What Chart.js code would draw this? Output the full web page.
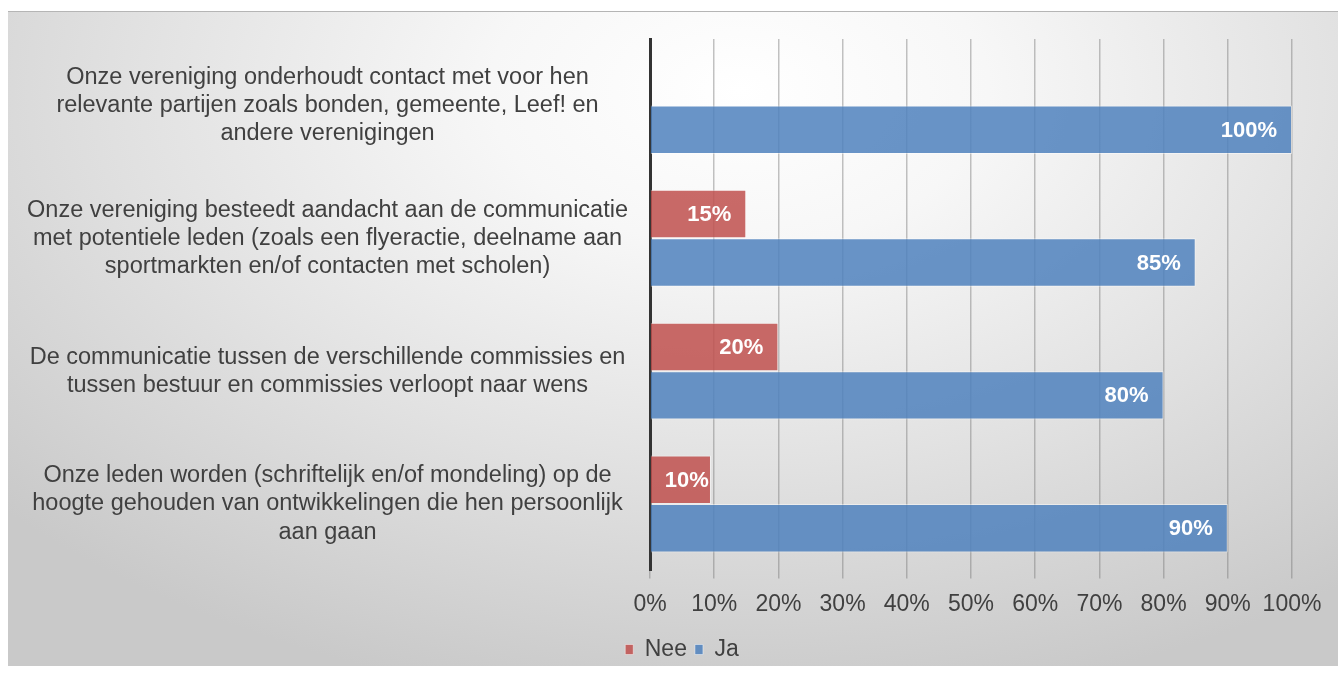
<!DOCTYPE html>
<html>
<head>
<meta charset="utf-8">
<script src="https://cdn.jsdelivr.net/npm/chart.js@4/dist/chart.umd.min.js"></script>
<style>
    html, body { margin: 0; padding: 0; background: #ffffff; }
    #frame {
        position: absolute;
        left: 8px; top: 11px;
        width: 1330px; height: 654px;
        background: radial-gradient(ellipse 75% 95% at 55% 12%, #ffffff 0%, #f7f7f7 25%, #e2e2e2 60%, #c9c9c9 100%);
        border-top: 1px solid #b5b5b5;
    }
</style>
</head>
<body>
<div id="frame"><canvas id="chart"></canvas></div>
<script>
    // Data
    const categories = [
        ['Onze vereniging onderhoudt contact met voor hen', 'relevante partijen zoals bonden, gemeente, Leef! en', 'andere verenigingen'],
        ['Onze vereniging besteedt aandacht aan de communicatie', 'met potentiele leden (zoals een flyeractie, deelname aan', 'sportmarkten en/of contacten met scholen)'],
        ['De communicatie tussen de verschillende commissies en', 'tussen bestuur en commissies verloopt naar wens'],
        ['Onze leden worden (schriftelijk en/of mondeling) op de', 'hoogte gehouden van ontwikkelingen die hen persoonlijk', 'aan gaan']
    ];
    const neeValues = [0, 15, 20, 9.5];
    const jaValues = [100, 85, 80, 90];
    const xTicks = [0, 10, 20, 30, 40, 50, 60, 70, 80, 90, 100];

    const textColor = '#404040';
    const fontFamily = '"Liberation Sans", Arial, sans-serif';

    // Value labels drawn inside the end of each bar
    const barLabels = {
        id: 'barLabels',
        afterDatasetsDraw(chart) {
            const ctx = chart.ctx;
            ctx.save();
            ctx.font = 'bold 22px ' + fontFamily;
            ctx.fillStyle = '#ffffff';
            ctx.textAlign = 'right';
            ctx.textBaseline = 'middle';
            chart.data.datasets.forEach((ds, i) => {
                chart.getDatasetMeta(i).data.forEach((bar, j) => {
                    const v = ds.data[j];
                    if (!v) return;
                    const text = Math.round(v) + '%';
                    const w = ctx.measureText(text).width;
                    // short bars: keep the label from running past the axis
                    const x = Math.min(bar.x, Math.max(bar.x - 15, bar.base + 14 + w));
                    ctx.fillText(text, x, bar.y + 1);
                });
            });
            ctx.restore();
        }
    };

    // Nudge the legend a little right of centre, like the original
    const legendShift = {
        id: 'legendShift',
        beforeDraw(chart) {
            chart.legend.left += 32;
            chart.legend.right += 32;
        }
    };

    new Chart(document.getElementById('chart'), {
        type: 'bar',
        data: {
            labels: categories,
            datasets: [{
                label: 'Nee',
                data: neeValues,
                backgroundColor: 'rgba(192, 80, 77, 0.85)',
                borderColor: 'rgba(255, 255, 255, 0.45)',
                borderWidth: 1,
                categoryPercentage: 0.73,
                barPercentage: 1
            }, {
                label: 'Ja',
                data: jaValues,
                backgroundColor: 'rgba(79, 129, 189, 0.85)',
                borderColor: 'rgba(255, 255, 255, 0.45)',
                borderWidth: 1,
                categoryPercentage: 0.73,
                barPercentage: 1
            }]
        },
        options: {
            indexAxis: 'y',
            responsive: true,
            maintainAspectRatio: false,
            animation: false,
            layout: { padding: { top: 27, right: 46, left: 0, bottom: -5 } },
            plugins: {
                legend: {
                    position: 'bottom',
                    labels: {
                        color: textColor,
                        boxWidth: 8,
                        boxHeight: 10,
                        padding: 8,
                        font: { family: fontFamily, size: 23 }
                    }
                },
                tooltip: { enabled: false }
            },
            scales: {
                x: {
                    min: 0,
                    max: 100,
                    afterBuildTicks(scale) {
                        scale.ticks = xTicks.map(v => ({ value: v }));
                    },
                    ticks: {
                        color: textColor,
                        padding: 12,
                        autoSkip: false,
                        maxRotation: 0,
                        minRotation: 0,
                        font: { family: fontFamily, size: 23 },
                        callback: v => v + '%'
                    },
                    grid: { color: 'rgba(120, 120, 120, 0.45)', lineWidth: 1.5, tickLength: 8 },
                    border: { display: false }
                },
                y: {
                    afterFit(scale) {
                        scale.width = 642;
                        scale.paddingTop = 0;
                        scale.paddingBottom = 0;
                    },
                    ticks: {
                        color: textColor,
                        crossAlign: 'center',
                        padding: 14,
                        font: { family: fontFamily, size: 23.5, lineHeight: 1.2 }
                    },
                    grid: { display: false },
                    border: { color: '#333333', width: 3 }
                }
            }
        },
        plugins: [barLabels, legendShift]
    });
</script>
</body>
</html>
